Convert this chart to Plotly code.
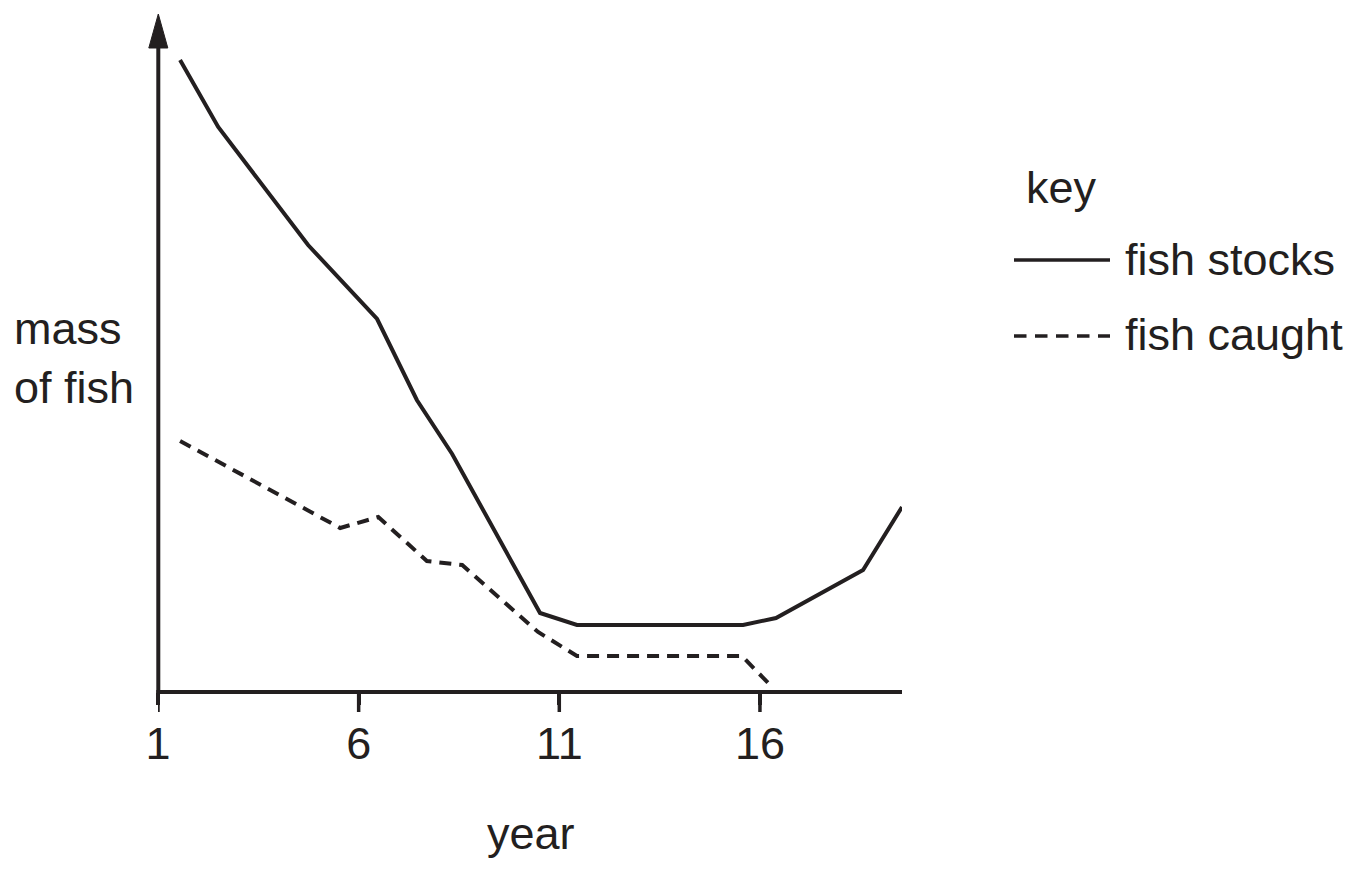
import plotly.graph_objects as go

# ---- data ----
stock_years = [1.55, 2.50, 4.74, 6.46, 7.45, 8.33, 10.52, 11.44, 15.58, 16.40, 18.57, 19.54]
stock_mass = [63.2, 56.5, 44.7, 37.3, 29.2, 23.8, 7.9, 6.7, 6.7, 7.4, 12.2, 18.5]

caught_years = [1.55, 5.54, 6.49, 7.70, 8.58, 10.47, 11.44, 15.55, 16.28]
caught_mass = [25.1, 16.4, 17.5, 13.1, 12.7, 6.0, 3.6, 3.6, 0.6]

tick_vals = [1, 6, 11, 16]
tick_text = ["1", "6", "11", "16"]

# ---- geometry ----
W, H = 1363, 870
L, R, T, B = 158, 902, 13, 692   # plot area in pixels
INK = "#231f20"
FONT = "Liberation Sans, Arial, Helvetica, sans-serif"
FS = 45


def px(xp):
    return (xp - L) / (R - L)


def py(yp):
    return (B - yp) / (B - T)


fig = go.Figure()
fig.add_trace(go.Scatter(x=stock_years, y=stock_mass, mode="lines",
                         line=dict(color=INK, width=4), name="fish stocks",
                         showlegend=False, hoverinfo="skip"))
fig.add_trace(go.Scatter(x=caught_years, y=caught_mass, mode="lines",
                         line=dict(color=INK, width=4, dash="12px,8px"), name="fish caught",
                         showlegend=False, hoverinfo="skip"))

shapes = [
    # axis lines
    dict(type="line", xref="paper", yref="paper", x0=px(158.3), x1=px(158.3), y0=py(694), y1=py(40),
         line=dict(color=INK, width=4)),
    dict(type="line", xref="paper", yref="paper", x0=px(156.3), x1=px(902), y0=py(692), y1=py(692),
         line=dict(color=INK, width=4)),
    # arrow head on y axis
    dict(type="path", xref="paper", yref="paper",
         path=f"M {px(148.8)} {py(48)} L {px(158.3)} {py(14)} L {px(167.8)} {py(48)} Z",
         fillcolor=INK, line=dict(color=INK, width=1)),
    # legend samples
    dict(type="line", xref="paper", yref="paper", x0=px(1014), x1=px(1110), y0=py(260), y1=py(260),
         line=dict(color=INK, width=3.5)),
    dict(type="line", xref="paper", yref="paper", x0=px(1014), x1=px(1110), y0=py(336), y1=py(336),
         line=dict(color=INK, width=3.5, dash="12.5px,8.5px")),
]
# tick marks (placed on the x scale)
for tv in tick_vals:
    shapes.append(dict(type="line", xref="x", yref="paper", x0=tv, x1=tv, y0=py(692), y1=py(712),
                       line=dict(color=INK, width=3.5)))

annots = [
    dict(text="mass<br>of fish", x=px(12), y=py(358), xanchor="left", yanchor="middle", align="left"),
    dict(text="year", x=px(531), y=py(833), xanchor="center", yanchor="middle"),
    dict(text="key", x=px(1061), y=py(188), xanchor="center", yanchor="middle"),
    dict(text="fish stocks", x=px(1123), y=py(259), xanchor="left", yanchor="middle"),
    dict(text="fish caught", x=px(1123), y=py(334), xanchor="left", yanchor="middle"),
]
for a in annots:
    a.update(xref="paper", yref="paper", showarrow=False, font=dict(size=FS, color=INK, family=FONT))

fig.update_layout(
    width=W, height=H,
    margin=dict(l=L, r=W - R, t=T, b=H - B, pad=0),
    paper_bgcolor="white", plot_bgcolor="white",
    font=dict(family=FONT, size=FS, color=INK),
    showlegend=False,
    shapes=shapes,
    annotations=annots,
    xaxis=dict(range=[1, 1 + (R - L) / 40.13], showgrid=False, zeroline=False,
               showline=False,
               ticks="outside", ticklen=12, tickwidth=3.5, tickcolor=INK,
               tickvals=tick_vals, ticktext=tick_text,
               tickfont=dict(size=FS, color=INK, family=FONT), fixedrange=True),
    yaxis=dict(range=[0, (B - T) / 10], showgrid=False, zeroline=False,
               showline=False, showticklabels=False, ticks="", fixedrange=True),
)

fig.write_html("out.html")
